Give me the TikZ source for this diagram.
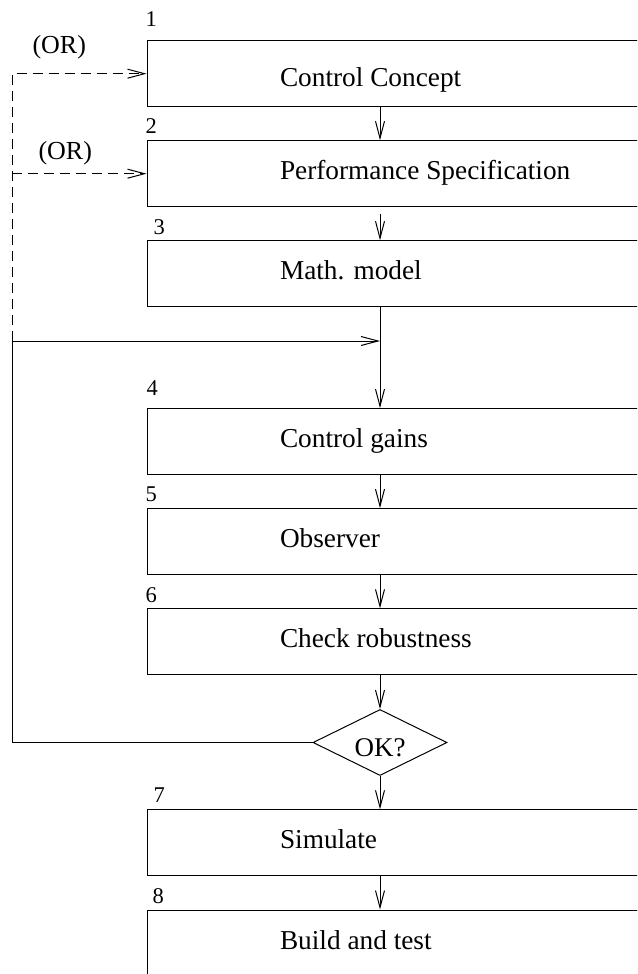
\documentclass[tikz,border=0pt]{standalone}
\usepackage{fontspec}
\setmainfont{Liberation Serif}
\usetikzlibrary{arrows.meta,shapes.geometric}
\begin{document}
\begin{tikzpicture}[x=1pt,y=-1pt,line width=1pt,
  box/.style={draw,rectangle,minimum width=543pt,minimum height=66pt,inner xsep=0pt,inner ysep=0pt,
    text height=18pt,text depth=6pt,font=\fontsize{27.3}{30}\selectfont},
  numlab/.style={anchor=base west,inner sep=0pt,font=\fontsize{22.5}{26}\selectfont},
  orlab/.style={anchor=base west,inner sep=0pt,font=\fontsize{26}{30}\selectfont},
  arr/.style={-{Straight Barb[length=17pt,width=9pt]}},
  dashpat/.style={dash pattern=on 10pt off 6pt}]
\useasboundingbox (0,0) rectangle (637,974);
\clip (0,0) rectangle (637,974);
\newcommand{\boxtext}[1]{\makebox[543pt][l]{\hspace{133pt}#1}}
\node[box,text height=26pt,text depth=0pt] (b1) at (418.5,73.7) {\boxtext{Control Concept}};
\node[box] (b2) at (418.5,173.7) {\boxtext{Performance Specification}};
\node[box] (b3) at (418.5,273.7) {\boxtext{Math. model}};
\node[box] (b4) at (418.5,441.6) {\boxtext{Control gains}};
\node[box] (b5) at (418.5,541.6) {\boxtext{Observer}};
\node[box] (b6) at (418.5,641.8) {\boxtext{Check robustness}};
\node[draw,diamond,aspect=2,minimum width=134pt,minimum height=66pt,inner sep=0pt,
  text height=28pt,text depth=0pt,font=\fontsize{27}{30}\selectfont] (ok) at (380,742.5) {OK?};
\node[box] (b7) at (418.5,842.8) {\boxtext{Simulate}};
\node[box] (b8) at (418.5,943) {\boxtext{Build and test}};
\node[numlab] (n1) at (145,27) {1};
\node[numlab] (n2) at (145,133.3) {2};
\node[numlab] (n3) at (153,234) {3};
\node[numlab] (n4) at (146,395.3) {4};
\node[numlab] (n5) at (145,501.7) {5};
\node[numlab] (n6) at (145,602.3) {6};
\node[numlab] (n7) at (153,802.7) {7};
\node[numlab] (n8) at (152,903.3) {8};
\node[orlab] (or1) at (32,54) {(OR)};
\node[orlab] (or2) at (38,159) {(OR)};
\coordinate (j) at (380,341);
\coordinate (c0) at (12,341);
\coordinate (c1) at (12,73.7);
\coordinate (c2) at (12,173.7);
\draw[arr] (b1.south -| ok.north) -- (b2.north -| ok.north);
\draw[arr,shorten <=7pt] (b2.south -| ok.north) -- (b3.north -| ok.north);
\draw[arr] (b3.south -| ok.north) -- (b4.north -| ok.north);
\draw[arr] (b4.south -| ok.north) -- (b5.north -| ok.north);
\draw[arr] (b5.south -| ok.north) -- (b6.north -| ok.north);
\draw[arr] (b6.south -| ok.north) -- (ok.north);
\draw[arr] (ok.south) -- (b7.north -| ok.south);
\draw[arr] (b7.south -| ok.south) -- (b8.north -| ok.south);
\draw[arr] (ok.west) -| (c0) -- (j);
\draw[arr,dashpat] (c0) -- (c1) -- (b1.west);
\draw[arr,dashpat] (c2) -- (b2.west);
\end{tikzpicture}
\end{document}
